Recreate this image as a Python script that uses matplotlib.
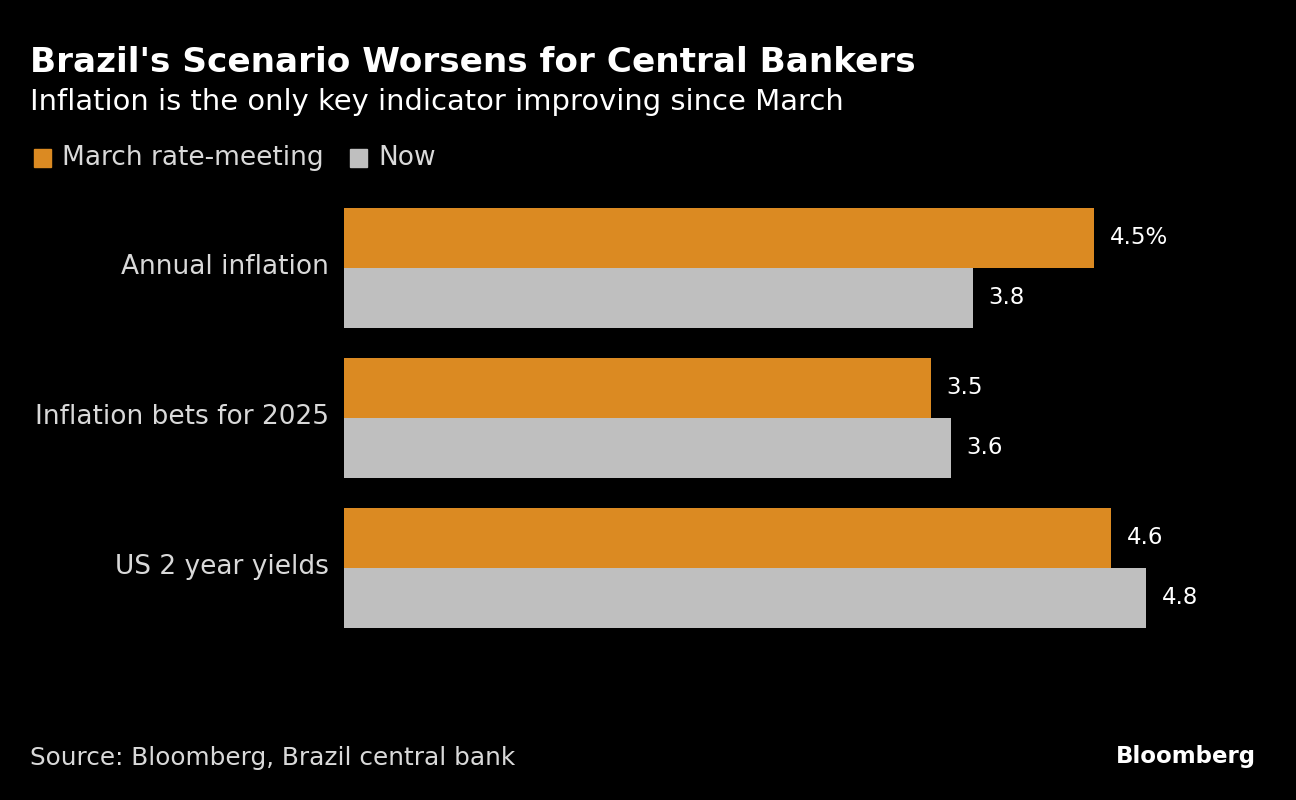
import matplotlib.pyplot as plt
import matplotlib.transforms as mtransforms
from matplotlib.patches import Rectangle

# Data
categories = ["Annual inflation", "Inflation bets for 2025", "US 2 year yields"]
march_vals = [4.5, 3.52, 4.6]
now_vals = [3.77, 3.64, 4.81]
march_labels = ["4.5%", "3.5", "4.6"]
now_labels = ["3.8", "3.6", "4.8"]

orange = "#DB8A22"
grey = "#BFBFBF"
text_grey = "#D9D9D9"

plt.rcParams["font.family"] = ["DejaVu Sans"]

fig = plt.figure(figsize=(12.96, 8), dpi=100, facecolor="black")
ax = fig.add_axes([344 / 1296, 1 - 643 / 800, (1256 - 344) / 1296, 450 / 800])
ax.set_facecolor("black")

h = 0.4
ys = list(range(len(categories)))
ax.barh([y - h / 2 for y in ys], march_vals, height=h, color=orange)
ax.barh([y + h / 2 for y in ys], now_vals, height=h, color=grey)

for y, v, lab in zip(ys, march_vals, march_labels):
    ax.text(v + 0.095, y - h / 2, lab, color="white", fontsize=16.5, va="center", ha="left")
for y, v, lab in zip(ys, now_vals, now_labels):
    ax.text(v + 0.095, y + h / 2, lab, color="white", fontsize=16.5, va="center", ha="left")

ax.set_xlim(0, 5.47)
ax.set_ylim(2.5, -0.5)
ax.set_yticks(ys)
ax.set_yticklabels(categories, color=text_grey, fontsize=19, va="center_baseline")
ax.tick_params(axis="y", length=0, pad=11)
# nudge category labels up a little
shift = mtransforms.ScaledTranslation(0, 4 / 100, fig.dpi_scale_trans)
for t in ax.get_yticklabels():
    t.set_transform(t.get_transform() + shift)
ax.set_xticks([])
for s in ax.spines.values():
    s.set_visible(False)

# Titles
fig.text(30 / 1296, 1 - 62 / 800, "Brazil's Scenario Worsens for Central Bankers",
         color="white", fontsize=24.7, fontweight="bold", va="center", ha="left")
fig.text(30 / 1296, 1 - 102 / 800, "Inflation is the only key indicator improving since March",
         color="white", fontsize=20.9, va="center", ha="left")

# Legend
fig.patches.append(Rectangle((34 / 1296, 1 - 167 / 800), 17 / 1296, 18 / 800,
                             transform=fig.transFigure, color=orange))
fig.text(62 / 1296, 1 - 158 / 800, "March rate-meeting", color=text_grey,
         fontsize=19, va="center", ha="left")
fig.patches.append(Rectangle((350 / 1296, 1 - 167 / 800), 17 / 1296, 18 / 800,
                             transform=fig.transFigure, color=grey))
fig.text(378 / 1296, 1 - 158 / 800, "Now", color=text_grey,
         fontsize=19, va="center", ha="left")

# Footer
fig.text(30 / 1296, 1 - 758 / 800, "Source: Bloomberg, Brazil central bank",
         color=text_grey, fontsize=17.8, va="center", ha="left")
fig.text(1256 / 1296, 1 - 756 / 800, "Bloomberg", color="white", fontsize=16.5,
         fontweight="bold", va="center", ha="right")

plt.savefig("out.png", dpi=100, facecolor="black")
